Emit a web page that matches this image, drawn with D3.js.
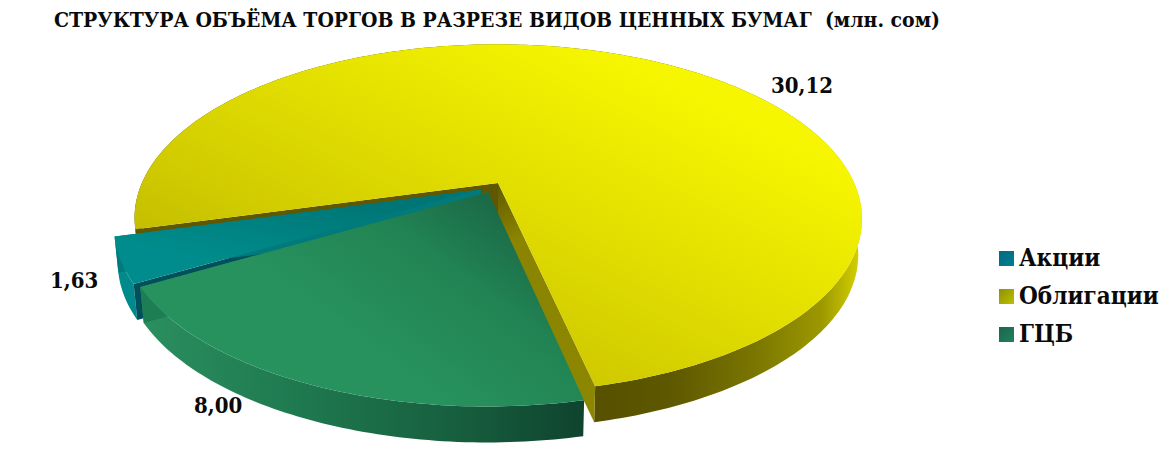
<!DOCTYPE html>
<html><head><meta charset="utf-8">
<script src="https://cdn.jsdelivr.net/npm/d3@7/dist/d3.min.js"></script>
<style>html,body{margin:0;padding:0;background:#fff}svg{display:block}text{font-family:"DejaVu Serif Condensed","DejaVu Serif",serif;font-weight:bold;fill:#0a0a0a}</style>
</head><body><svg id="c" width="1174" height="451"></svg>
<script>
const categories = ["Акции","Облигации","ГЦБ"];
const values = [1.63,30.12,8.00];
const valueLabels = ["1,63","30,12","8,00"];
const title = "СТРУКТУРА ОБЪЁМА ТОРГОВ В РАЗРЕЗЕ ВИДОВ ЦЕННЫХ БУМАГ  (млн. сом)";

const svg = d3.select("#c");
const defs = svg.append("defs");
const C = {x:492.5,y:187.3}, R=358, S=168.6, k=0.204, DEPTH=36, SHRINK=0.99;
const explode=[0.034,0.03,0.03];
const start = -120*Math.PI/180;
const arcs = d3.pie().sort(null).startAngle(start).endAngle(start+2*Math.PI)(values);

function grad(id,x1,y1,x2,y2,stops){
  const g=defs.append("linearGradient").attr("id",id).attr("gradientUnits","userSpaceOnUse")
    .attr("x1",x1).attr("y1",y1).attr("x2",x2).attr("y2",y2);
  stops.forEach(s=>g.append("stop").attr("offset",s[0]).attr("stop-color",s[1]));
  return `url(#${id})`;
}
const project=(u,v,low)=>{
  const w=1-k*v; let x=R*u/w, y=S*v/w;
  if(low){x*=SHRINK;y+=DEPTH;}
  return [C.x+x,C.y+y];
};
const pathLine=d3.line();
function geom(d,i){
  const E=explode[i];
  const mid=(d.startAngle+d.endAngle)/2, ou=E*Math.sin(mid), ov=-E*Math.cos(mid);
  const n=Math.ceil((d.endAngle-d.startAngle)*60);
  const th=d3.range(n+1).map(i=>d.startAngle+(d.endAngle-d.startAngle)*i/n);
  const rim=low=>th.map(t=>project(ou+Math.sin(t),ov-Math.cos(t),low));
  return {apex:project(ou,ov,false),apexL:project(ou,ov,true),rimTop:rim(false),rimBot:rim(true)};
}
const G=arcs.map(geom);
const [teal,yellow,green]=G;
const cl=p=>pathLine(p)+"Z";
const last=a=>a[a.length-1];
const layer=svg.append("g");
function wall(geo,fill){layer.append("path").attr("d",cl(geo.rimTop.concat(geo.rimBot.slice().reverse()))).attr("fill",fill);}
function face(geo,end,fill){
  const a=end?last(geo.rimTop):geo.rimTop[0], b=end?last(geo.rimBot):geo.rimBot[0];
  layer.append("path").attr("d",cl([geo.apex,a,b,geo.apexL])).attr("fill",fill);
}
function cap(geo,fill){layer.append("path").attr("d",cl([geo.apex].concat(geo.rimTop))).attr("fill",fill);}

// yellow slice
const yWall=grad("yw",590,0,862,0,[[0,"#565000"],[.3,"#5e5800"],[.6,"#7a7500"],[.85,"#9c9800"],[1,"#d8d400"]]);
wall(yellow,yWall);
face(yellow,true,grad("yf",480,190,595,400,[[0,"#5f5800"],[.25,"#8a8400"],[1,"#8c8600"]]));
face(yellow,false,"#5f5800");
cap(yellow,grad("yt",420,420,600,50,[[0,"#bdb600"],[.28,"#d0ca00"],[.55,"#dfdb00"],[1,"#f6f600"]]));
// teal slice
wall(teal,"#008a8c");
face(teal,false,"#004f5c");
face(teal,true,"#007a7c");
cap(teal,grad("tt",300,280,320,190,[[0,"#008c8c"],[1,"#007575"]]));
// green slice
wall(green,grad("gw",135,0,585,0,[[0,"#2b9060"],[.35,"#1f7a50"],[.7,"#17603f"],[1,"#0f432e"]]));
face(green,true,"#1e7d52");
cap(green,grad("gt",360,340,470,190,[[0,"#27925d"],[.6,"#218353"],[1,"#1b6b48"]]));

svg.append("text").attr("x",54).attr("y",27).attr("font-size",21).attr("textLength",886).attr("xml:space","preserve").text(title);

const labelPos=[[50,288],[771,93],[194,413]];
svg.selectAll("text.v").data(valueLabels).join("text").attr("class","v")
  .attr("x",(d,i)=>labelPos[i][0]).attr("y",(d,i)=>labelPos[i][1]).attr("font-size",22).text(d=>d);

const swatch=[["#006a80","#007f92"],["#8e9000","#bcc000"],["#1a6650","#22805c"]];
const legY=d3.scalePoint().domain(categories).range([258,334]);
categories.forEach((c,i)=>{
  const y=legY(c);
  svg.append("rect").attr("x",999).attr("y",y-7).attr("width",15).attr("height",15)
    .attr("fill",grad("l"+i,999,y-7,1014,y+8,[[0,swatch[i][0]],[1,swatch[i][1]]]));
  svg.append("text").attr("x",1019).attr("y",y+8).attr("font-size",24).text(c);
});
</script></body></html>
